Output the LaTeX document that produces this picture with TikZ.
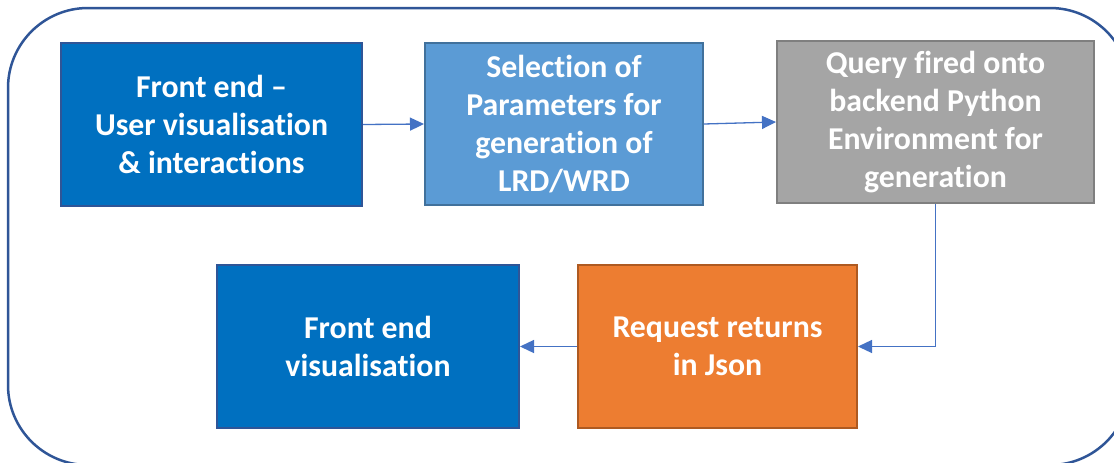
\documentclass[tikz,border=0pt]{standalone}
\usepackage{fontspec}
\setmainfont{Carlito}[Ligatures=NoCommon]
\usetikzlibrary{arrows.meta}
\definecolor{frameblue}{HTML}{2F5597}
\definecolor{darkfill}{HTML}{0070C0}
\definecolor{lightfill}{HTML}{5B9BD5}
\definecolor{lightborder}{HTML}{41719C}
\definecolor{grayfill}{HTML}{A5A5A5}
\definecolor{grayborder}{HTML}{7F7F7F}
\definecolor{orangefill}{HTML}{ED7D31}
\definecolor{orangeborder}{HTML}{AE5A21}
\definecolor{arrowblue}{HTML}{4472C4}
\tikzset{
  box/.style={rectangle, line width=2pt, align=center, text=white,
    font=\fontsize{31.8}{38}\selectfont\bfseries, inner sep=0pt},
  conn/.style={draw=arrowblue, line width=1.3pt,
    -{Triangle[length=14pt,width=13pt]}},
}
\begin{document}
\begin{tikzpicture}[x=1pt,y=-1pt]
\useasboundingbox (0,0) rectangle (1114,463);
\fill[white] (0,0) rectangle (1114,463);
\begin{scope}
\clip (0,0) rectangle (1114,463);
\draw[frameblue, line width=2.5pt, rounded corners=80pt] (8,8) rectangle (1130,465);
\end{scope}
\node[box, fill=darkfill, draw=frameblue, minimum width=301pt, minimum height=163pt] (b1) at (211.5,124.5) {Front end –\\User visualisation\\\& interactions};
\node[box, fill=lightfill, draw=lightborder, minimum width=278pt, minimum height=162pt] (b2) at (564,124) {Selection of\\Parameters for\\generation of\\LRD/WRD};
\node[box, fill=grayfill, draw=grayborder, minimum width=317pt, minimum height=162pt] (b3) at (935.5,122) {Query fired onto\\backend Python\\Environment for\\generation};
\node[box, fill=darkfill, draw=frameblue, minimum width=302pt, minimum height=163pt] (b4) at (368,346.5) {Front end\\visualisation};
\node[box, fill=orangefill, draw=orangeborder, minimum width=279pt, minimum height=163pt] (b5) at (717.5,346.5) {Request returns\\in Json};
\draw[conn] (b1.east) -- (b2.west);
\draw[conn] (b2.east) -- (b3.west);
\draw[conn] (b3.south) |- (b5.east);
\draw[conn] (b5.west) -- (b4.east);
\end{tikzpicture}
\end{document}
